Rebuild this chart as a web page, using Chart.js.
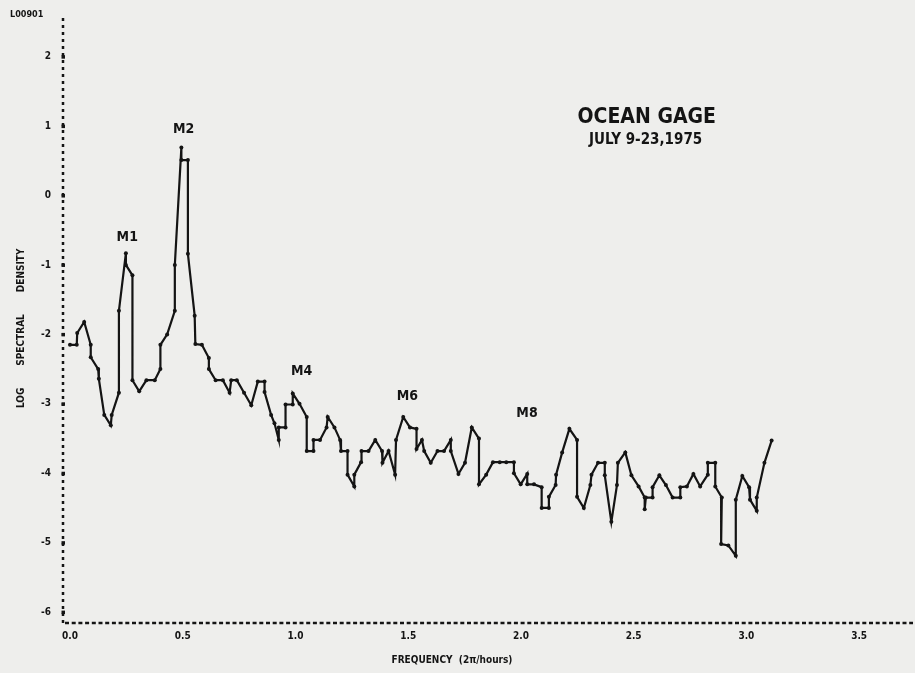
<!DOCTYPE html>
<html>
<head>
<meta charset="utf-8">
<script src="https://cdn.jsdelivr.net/npm/chart.js@4/dist/chart.umd.min.js"></script>
<style>
  html, body { margin: 0; padding: 0; background: #ededeb; }
  #wrap { width: 915px; height: 673px; }
</style>
</head>
<body>
<div id="wrap"><canvas id="c" width="915" height="673"></canvas></div>
<script>
// ---- data ----
const freq = [
  0.000,0.030,0.032,0.063,0.092,0.092,0.125,0.128,0.152,0.181,
  0.185,0.217,0.217,0.248,0.248,0.277,0.277,0.307,0.339,0.376,
  0.401,0.401,0.431,0.465,0.465,0.494,0.494,0.523,0.523,0.553,
  0.556,0.585,0.616,0.616,0.646,0.678,0.708,0.715,0.740,0.772,
  0.804,0.833,0.863,0.863,0.892,0.907,0.926,0.926,0.956,0.956,
  0.988,0.988,1.018,1.050,1.050,1.080,1.080,1.109,1.138,1.143,
  1.173,1.198,1.202,1.231,1.231,1.261,1.261,1.291,1.293,1.324,
  1.354,1.384,1.386,1.413,1.442,1.446,1.478,1.508,1.537,1.537,
  1.561,1.571,1.600,1.630,1.659,1.689,1.689,1.723,1.752,1.782,
  1.814,1.814,1.846,1.876,1.906,1.935,1.969,1.969,1.999,2.028,
  2.028,2.058,2.092,2.092,2.124,2.124,2.154,2.156,2.183,2.215,
  2.249,2.249,2.279,2.308,2.313,2.342,2.372,2.372,2.401,2.426,
  2.430,2.463,2.490,2.522,2.549,2.549,2.554,2.584,2.584,2.614,
  2.643,2.673,2.707,2.707,2.736,2.765,2.795,2.829,2.829,2.862,
  2.862,2.891,2.888,2.920,2.953,2.953,2.982,3.012,3.016,3.046,
  3.046,3.080,3.112
];
const logDensity = [
  -2.15,-2.15,-1.98,-1.82,-2.15,-2.33,-2.50,-2.64,-3.16,-3.31,
  -3.16,-2.84,-1.66,-0.83,-1.00,-1.15,-2.66,-2.82,-2.66,-2.66,
  -2.50,-2.15,-2.00,-1.66,-1.00,0.69,0.51,0.51,-0.84,-1.73,
  -2.14,-2.15,-2.34,-2.50,-2.66,-2.66,-2.84,-2.66,-2.66,-2.84,
  -3.02,-2.68,-2.68,-2.83,-3.16,-3.28,-3.52,-3.34,-3.34,-3.01,
  -3.01,-2.85,-3.00,-3.19,-3.68,-3.68,-3.52,-3.52,-3.34,-3.19,
  -3.34,-3.52,-3.68,-3.68,-4.02,-4.19,-4.02,-3.84,-3.68,-3.68,
  -3.52,-3.68,-3.85,-3.68,-4.02,-3.52,-3.19,-3.34,-3.36,-3.65,
  -3.52,-3.68,-3.85,-3.68,-3.68,-3.52,-3.68,-4.01,-3.85,-3.34,
  -3.50,-4.16,-4.02,-3.84,-3.84,-3.84,-3.84,-4.00,-4.16,-4.01,
  -4.16,-4.16,-4.20,-4.50,-4.50,-4.34,-4.17,-4.02,-3.70,-3.36,
  -3.52,-4.34,-4.50,-4.17,-4.02,-3.85,-3.85,-4.03,-4.70,-4.17,
  -3.85,-3.70,-4.03,-4.19,-4.35,-4.52,-4.35,-4.35,-4.20,-4.03,
  -4.17,-4.35,-4.35,-4.20,-4.19,-4.01,-4.19,-4.02,-3.85,-3.85,
  -4.19,-4.35,-5.02,-5.04,-5.19,-4.38,-4.04,-4.20,-4.38,-4.54,
  -4.35,-3.85,-3.53
];
const xTickValues = [0, 0.5, 1.0, 1.5, 2.0, 2.5, 3.0, 3.5];
const xTickLabels = ["0.0", "0.5", "1.0", "1.5", "2.0", "2.5", "3.0", "3.5"];
const yTickValues = [2, 1, 0, -1, -2, -3, -4, -5, -6];
const yTickLabels = ["2", "1", "0", "-1", "-2", "-3", "-4", "-5", "-6"];
const peakNames = ["M1", "M2", "M4", "M6", "M8"];
const peakLabelX = [0.254, 0.504, 1.027, 1.496, 2.027];
const peakLabelY = [-0.60, 0.96, -2.53, -2.89, -3.14];
const titleLines = ["OCEAN GAGE", "JULY 9-23,1975"];
const xAxisTitle = "FREQUENCY  (2\u03C0/hours)";
const yAxisTitle = "LOG       SPECTRAL       DENSITY     ";
const cornerLabel = "L00901";

// ---- chart ----
const INK = '#141414';
const FONT = "'DejaVu Sans Condensed','Liberation Sans Narrow','DejaVu Sans',sans-serif";

const paperPlugin = {
  id: 'paper',
  beforeDraw(chart) {
    const ctx = chart.ctx;
    ctx.save();
    ctx.fillStyle = '#eeeeec';
    ctx.fillRect(0, 0, chart.width, chart.height);
    ctx.restore();
  }
};

// dashed plotter-style axes drawn along the chart area edges
const axesPlugin = {
  id: 'dashedAxes',
  afterDraw(chart) {
    const ctx = chart.ctx;
    const a = chart.chartArea;
    const ys = chart.scales.y;
    ctx.save();
    ctx.strokeStyle = INK;
    ctx.lineWidth = 2.5;
    ctx.setLineDash([3, 4]);
    ctx.beginPath();
    ctx.moveTo(a.left, a.top);
    ctx.lineTo(a.left, a.bottom);
    ctx.stroke();
    ctx.setLineDash([4, 2.7]);
    ctx.beginPath();
    ctx.moveTo(a.left + 2, a.bottom);
    ctx.lineTo(a.right, a.bottom);
    ctx.stroke();
    ctx.setLineDash([]);
    ctx.fillStyle = INK;
    yTickValues.forEach(v => {
      const py = ys.getPixelForValue(v);
      ctx.fillRect(a.left - 1.5, py - 1.5, 3.5, 3.5);
    });
    ctx.restore();
  }
};

const textPlugin = {
  id: 'annotText',
  afterDatasetsDraw(chart) {
    const ctx = chart.ctx;
    const xs = chart.scales.x, ys = chart.scales.y;
    ctx.save();
    ctx.fillStyle = INK;
    ctx.textAlign = 'center';
    ctx.textBaseline = 'middle';
    ctx.font = "bold 14px " + FONT;
    peakNames.forEach((n, i) => {
      ctx.fillText(n, xs.getPixelForValue(peakLabelX[i]), ys.getPixelForValue(peakLabelY[i]));
    });
    ctx.font = "bold 21px " + FONT;
    ctx.fillText(titleLines[0], xs.getPixelForValue(2.558), ys.getPixelForValue(1.13));
    ctx.font = "bold 15px " + FONT;
    ctx.fillText(titleLines[1], xs.getPixelForValue(2.553), ys.getPixelForValue(0.80));
    // x axis title
    ctx.font = "bold 10px " + FONT;
    ctx.fillText(xAxisTitle, 452, 660);
    // corner label
    ctx.font = "bold 9px " + FONT;
    ctx.textAlign = 'left';
    ctx.fillText(cornerLabel, 10, 15);
    ctx.restore();
  }
};

new Chart(document.getElementById('c'), {
  type: 'line',
  data: {
    datasets: [{
      data: freq.map((f, i) => ({ x: f, y: logDensity[i] })),
      borderColor: INK,
      backgroundColor: INK,
      borderWidth: 2.2,
      pointRadius: 2,
      pointHoverRadius: 2,
      pointBorderWidth: 0,
      tension: 0,
      fill: false
    }]
  },
  options: {
    responsive: false,
    animation: false,
    events: [],
    layout: { padding: { top: 13, right: 0, left: 0, bottom: 0 } },
    plugins: { legend: { display: false }, tooltip: { enabled: false }, title: { display: false } },
    scales: {
      x: {
        type: 'linear',
        min: -0.031,
        max: 3.739,
        afterFit: s => { s.height = 50; },
        afterBuildTicks: s => { s.ticks = xTickValues.map(v => ({ value: v })); },
        grid: { display: false, drawTicks: false },
        border: { display: false },
        ticks: {
          color: INK,
          padding: 7,
          maxRotation: 0,
          autoSkip: false,
          font: { family: FONT, size: 10, weight: 'bold' },
          callback: (v) => { const i = xTickValues.indexOf(v); return i >= 0 ? xTickLabels[i] : ''; }
        }
      },
      y: {
        type: 'linear',
        min: -6.157,
        max: 2.557,
        afterFit: s => { s.width = 63; },
        afterBuildTicks: s => { s.ticks = yTickValues.map(v => ({ value: v })); },
        grid: { display: false, drawTicks: false },
        border: { display: false },
        title: {
          display: true,
          text: yAxisTitle,
          color: INK,
          padding: { top: 15, bottom: 0 },
          font: { family: FONT, size: 10, weight: 'bold' }
        },
        ticks: {
          color: INK,
          padding: 12,
          autoSkip: false,
          font: { family: FONT, size: 10, weight: 'bold' },
          callback: (v) => { const i = yTickValues.indexOf(v); return i >= 0 ? yTickLabels[i] : ''; }
        }
      }
    }
  },
  plugins: [paperPlugin, axesPlugin, textPlugin]
});
</script>
</body>
</html>
